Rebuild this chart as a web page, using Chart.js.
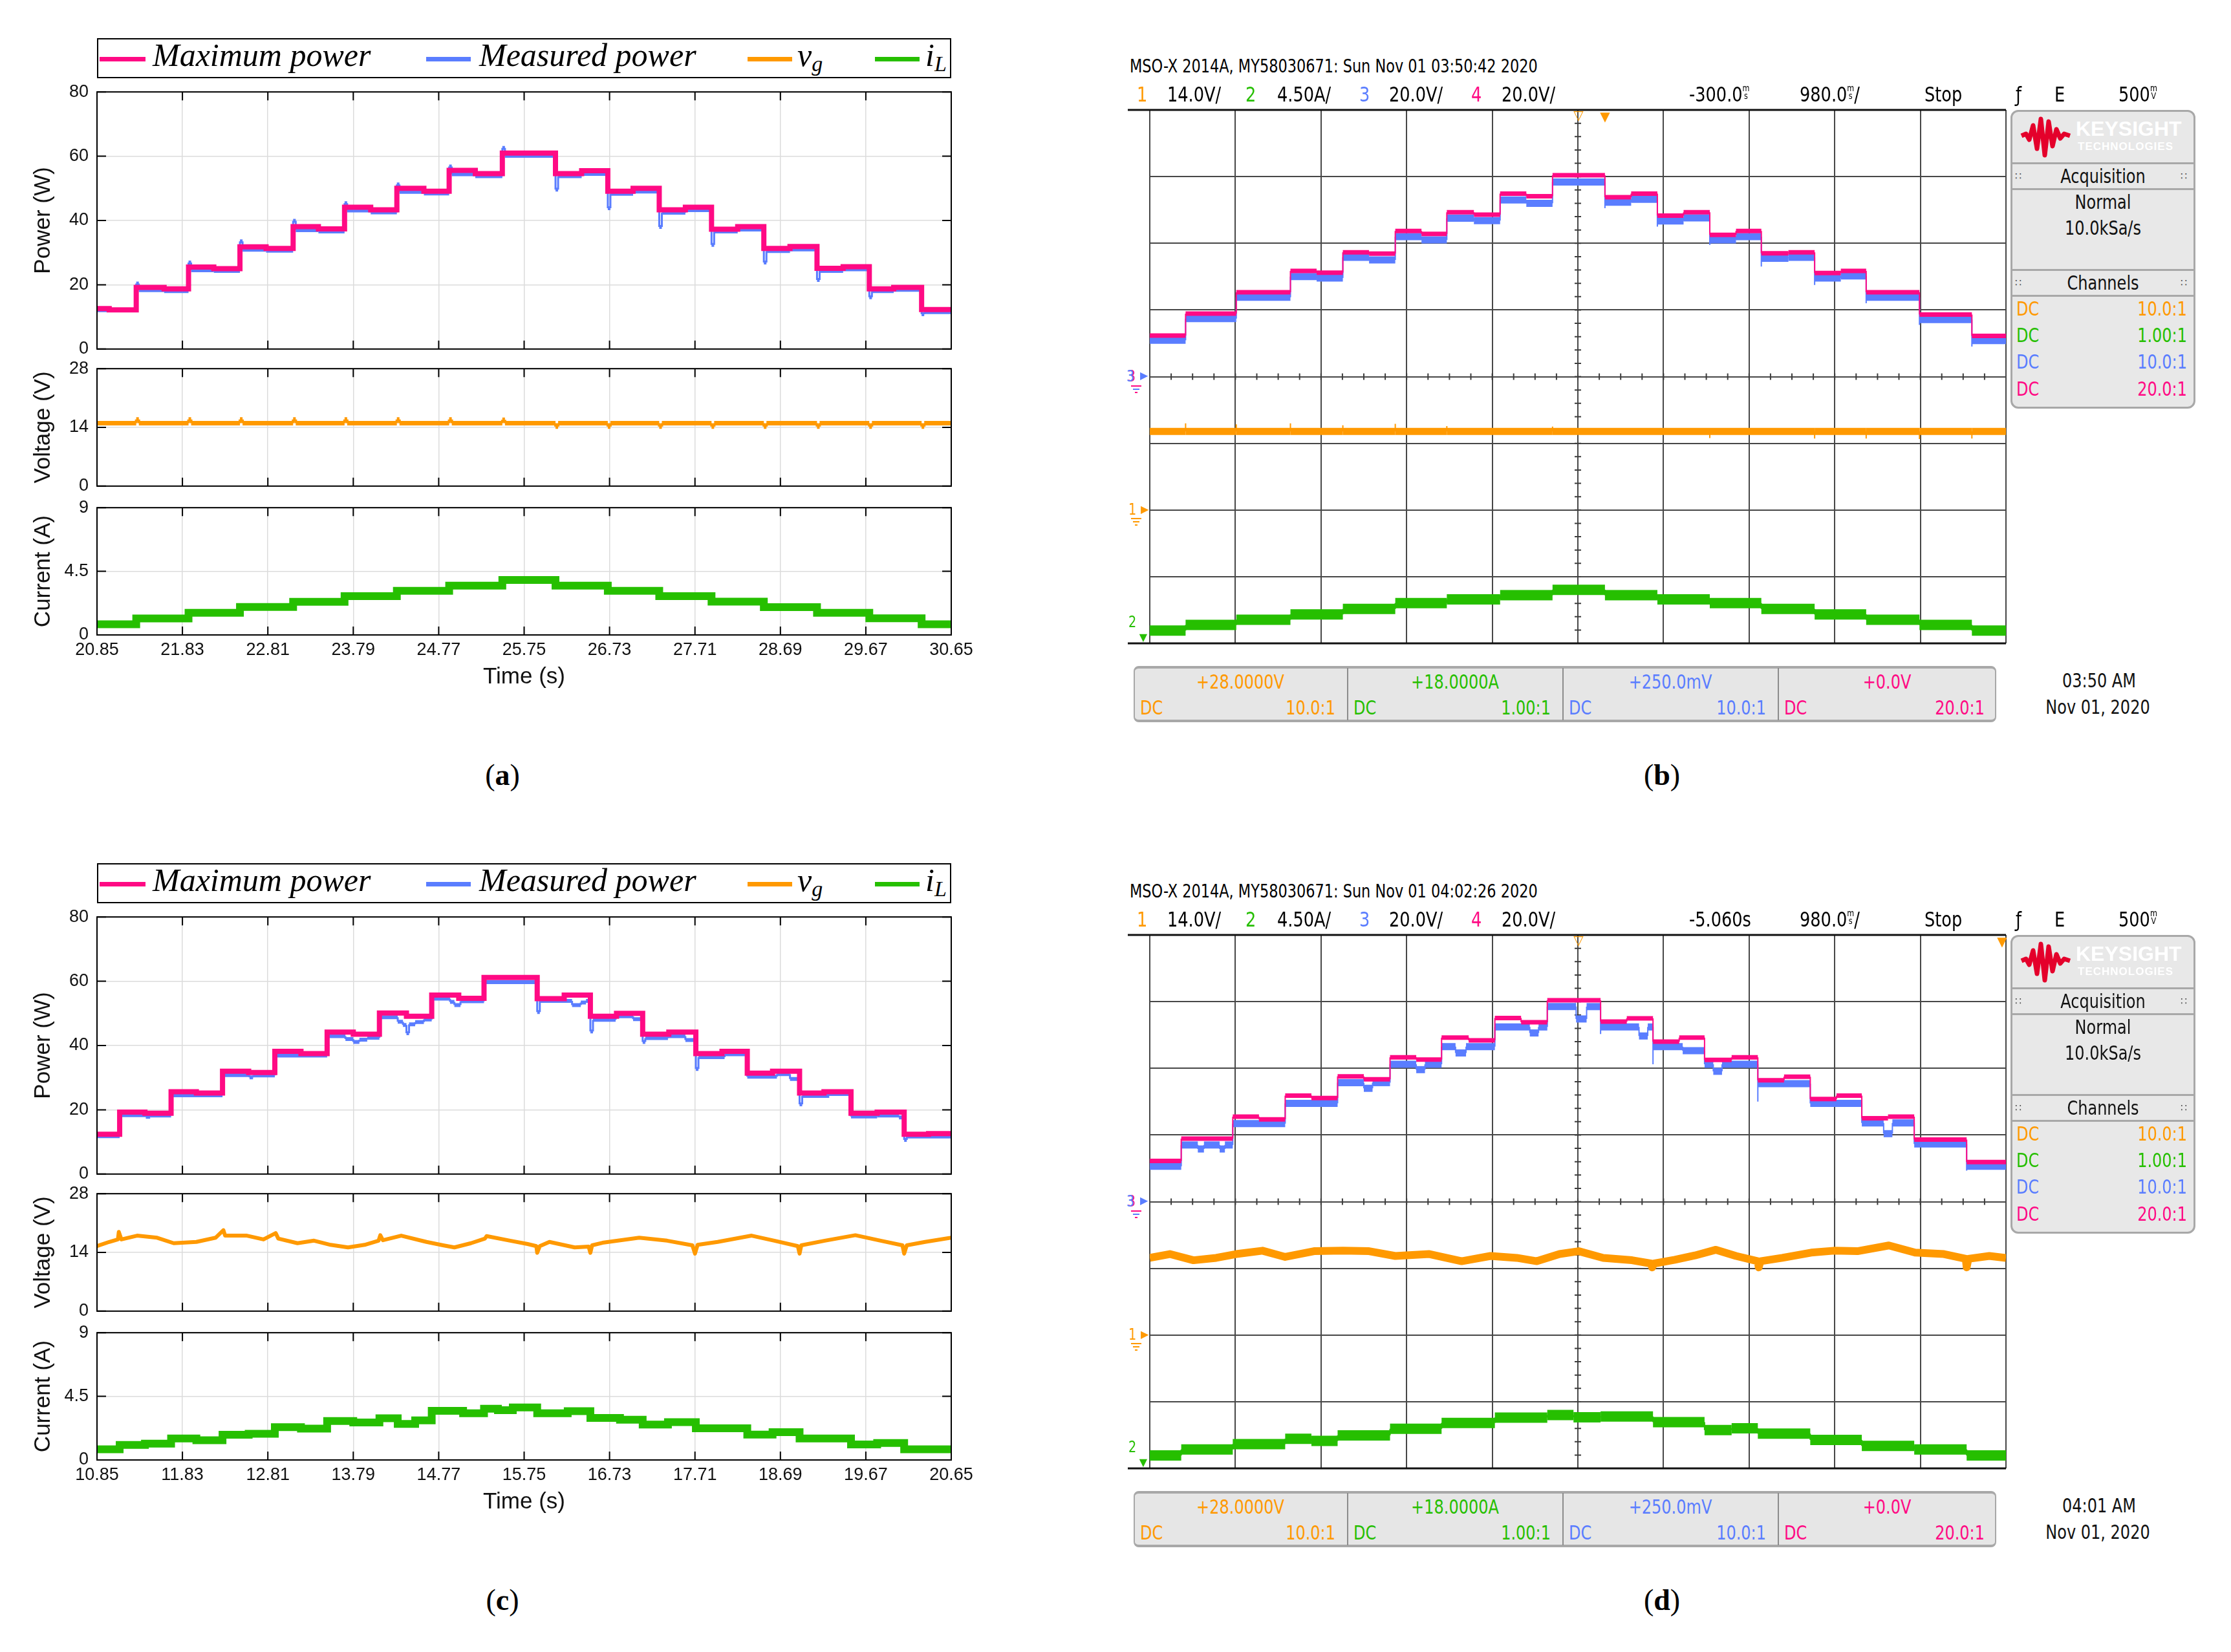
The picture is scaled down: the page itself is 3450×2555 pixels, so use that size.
<!DOCTYPE html>
<html>
<head>
<meta charset="utf-8">
<title>MPPT tracking: simulation and oscilloscope captures</title>
<script src="https://cdn.jsdelivr.net/npm/chart.js@4.4.1/dist/chart.umd.min.js"></script>
<style>
  html, body { margin: 0; padding: 0; background: #fff; }
  body { position: relative; width: 3450px; height: 2555px; overflow: hidden; font-family: "Liberation Sans", Arial, sans-serif; }
  canvas, .t, .b { position: absolute; }
  .t { white-space: nowrap; line-height: 1; }
  .scope { font-family: "Liberation Sans Narrow", "DejaVu Sans Condensed", "Liberation Sans", sans-serif; }
  .sym { font-family: "DejaVu Sans", sans-serif; }
  .leg { font-family: "Liberation Serif", "Times New Roman", serif; font-style: italic; font-size: 50px; }
  .leg sub { font-size: 34px; position: relative; top: 8px; vertical-align: baseline; }
  .cap { font-family: "Liberation Serif", "Times New Roman", serif; }
  .u { display: inline-block; font-size: 14px; line-height: 12px; text-align: center; vertical-align: 4px; }
</style>
</head>
<body>
<script>
// ---------- panel (a): simulation, 20.85 - 30.65 s ----------
const aTicks = [20.85, 21.83, 22.81, 23.79, 24.77, 25.75, 26.73, 27.71, 28.69, 29.67, 30.65];
const aStepT = [20.85, 20.99, 21.30, 21.62, 21.90, 22.19, 22.49, 22.79, 23.10, 23.39, 23.69, 23.99, 24.29, 24.60, 24.89, 25.19,
                25.50, 26.11, 26.41, 26.71, 27.00, 27.30, 27.60, 27.90, 28.20, 28.50, 28.80, 29.11, 29.41, 29.71, 29.99, 30.31];
const aMaxP = [12.6, 12.2, 19.2, 18.7, 25.5, 25.0, 31.8, 31.3, 38.1, 37.4, 44.1, 43.3, 50.0, 49.1, 55.6, 54.6,
               61.0, 54.6, 55.5, 49.1, 50.0, 43.3, 44.1, 37.3, 38.1, 31.3, 31.9, 25.1, 25.6, 18.7, 19.2, 12.3];
const aMeasT = [20.85, 21.30, 21.33, 21.62, 21.90, 21.93, 22.19, 22.49, 22.52, 22.79, 23.10, 23.13, 23.39, 23.69, 23.72, 23.99,
                24.29, 24.32, 24.60, 24.89, 24.92, 25.19, 25.50, 25.53, 26.11, 26.14, 26.41, 26.71, 26.74, 27.00, 27.30, 27.33,
                27.60, 27.90, 27.93, 28.20, 28.50, 28.53, 28.80, 29.11, 29.14, 29.41, 29.71, 29.74, 29.99, 30.31, 30.34];
const aMeasP = [12.1, 20.4, 18.3, 18.0, 26.9, 24.5, 24.3, 33.5, 30.9, 30.6, 39.9, 37.0, 36.6, 45.4, 43.1, 42.5,
                51.2, 48.9, 48.4, 56.8, 54.4, 53.8, 62.6, 60.1, 49.6, 53.8, 54.5, 43.8, 48.3, 49.0, 38.0, 42.4,
                43.2, 32.4, 36.6, 37.2, 26.9, 30.5, 31.0, 21.5, 24.3, 24.8, 16.1, 18.0, 18.4, 10.8, 11.5];
const aVgT = [20.85, 21.30, 21.33, 21.90, 21.93, 22.49, 22.52, 23.10, 23.13, 23.69, 23.72, 24.29, 24.32, 24.89, 24.92, 25.50, 25.53,
              26.11, 26.14, 26.71, 26.74, 27.30, 27.33, 27.90, 27.93, 28.50, 28.53, 29.11, 29.14, 29.71, 29.74, 30.31, 30.34];
const aVg = [15.0, 15.9, 15.0, 15.9, 15.0, 15.9, 15.0, 15.9, 15.0, 15.9, 15.0, 15.9, 15.0, 15.9, 15.0, 15.8, 15.0,
             14.2, 15.0, 14.2, 15.0, 14.2, 15.0, 14.2, 15.0, 14.2, 15.0, 14.2, 15.0, 14.2, 15.0, 14.2, 15.0];
const aIlT = [20.85, 21.30, 21.90, 22.49, 23.10, 23.69, 24.29, 24.89, 25.50, 26.11, 26.71, 27.30, 27.90, 28.50, 29.11, 29.71, 30.31];
const aIl = [0.75, 1.17, 1.57, 1.98, 2.34, 2.74, 3.12, 3.49, 3.89, 3.49, 3.12, 2.74, 2.36, 1.97, 1.57, 1.18, 0.75];

// ---------- panel (c): simulation, 10.85 - 20.65 s ----------
const cTicks = [10.85, 11.83, 12.81, 13.79, 14.77, 15.75, 16.73, 17.71, 18.69, 19.67, 20.65];
const cStepT = [10.85, 11.11, 11.40, 11.70, 11.99, 12.29, 12.59, 12.89, 13.19, 13.49, 13.79, 14.09, 14.40, 14.69, 15.00, 15.29,
                15.90, 16.21, 16.51, 16.81, 17.11, 17.41, 17.72, 18.02, 18.31, 18.60, 18.91, 19.19, 19.50, 19.80, 20.11, 20.39];
const cMaxP = [12.4, 19.3, 18.9, 25.6, 25.2, 32.0, 31.6, 38.2, 37.5, 44.2, 43.5, 50.1, 49.1, 55.7, 54.7, 61.2,
               54.6, 55.7, 49.1, 50.0, 43.5, 44.2, 37.5, 38.2, 31.4, 32.0, 25.2, 25.6, 18.9, 19.3, 12.4, 12.6];
const cMeasT = [10.85, 11.11, 11.41, 11.46, 11.70, 12.29, 12.60, 12.64, 12.89, 13.49, 13.70, 13.79, 13.86, 13.95, 14.09, 14.30,
                14.36, 14.40, 14.43, 14.50, 14.60, 14.69, 14.90, 14.95, 15.02, 15.29, 15.90, 15.93, 16.30, 16.40, 16.46, 16.51,
                16.54, 16.80, 17.00, 17.11, 17.14, 17.40, 17.60, 17.72, 17.75, 18.05, 18.31, 18.65, 18.80, 18.91, 18.94, 19.25,
                19.50, 19.80, 20.05, 20.11, 20.14];
const cMeasP = [11.8, 18.3, 17.8, 18.2, 24.5, 30.8, 30.1, 30.7, 36.9, 42.9, 42.0, 41.1, 41.8, 42.4, 48.8, 47.4,
                46.4, 43.8, 46.6, 47.3, 48.1, 54.6, 53.6, 52.6, 53.8, 59.7, 50.4, 53.9, 52.6, 53.4, 53.9, 44.4,
                48.0, 49.1, 48.2, 41.1, 42.3, 42.9, 41.7, 32.7, 36.4, 37.3, 30.3, 31.1, 29.6, 21.7, 24.3, 24.9,
                17.9, 18.2, 17.6, 10.6, 11.7];
const cVgT = [10.85, 10.99, 11.09, 11.10, 11.13, 11.31, 11.54, 11.73, 11.99, 12.21, 12.30, 12.32, 12.57, 12.76, 12.90, 12.93,
              13.15, 13.34, 13.53, 13.73, 13.92, 14.08, 14.10, 14.13, 14.34, 14.63, 14.82, 14.95, 15.14, 15.30, 15.32, 15.59,
              15.79, 15.89, 15.90, 15.93, 16.04, 16.33, 16.49, 16.51, 16.53, 16.65, 17.07, 17.39, 17.68, 17.71, 17.74, 17.97,
              18.36, 18.62, 18.89, 18.91, 18.93, 19.20, 19.55, 19.84, 20.09, 20.11, 20.14, 20.35, 20.65];
const cVg = [15.5, 16.5, 17.1, 18.9, 17.1, 18.0, 17.5, 16.2, 16.5, 17.5, 19.3, 18.0, 18.0, 17.1, 18.6, 17.3,
             16.2, 16.8, 15.8, 15.2, 15.8, 16.8, 18.1, 16.9, 18.0, 16.5, 15.7, 15.2, 16.2, 17.3, 17.9, 16.8,
             16.0, 15.5, 13.9, 15.5, 16.5, 15.2, 15.4, 13.9, 15.7, 16.3, 17.5, 16.8, 15.7, 13.7, 15.8, 16.5,
             18.0, 16.8, 15.5, 13.7, 15.7, 16.8, 18.1, 16.8, 15.7, 13.7, 15.7, 16.5, 17.5];
const cIlT = [10.85, 11.11, 11.40, 11.70, 11.99, 12.29, 12.59, 12.89, 13.19, 13.49, 13.79, 14.09, 14.30, 14.50, 14.69, 15.05,
              15.29, 15.45, 15.62, 15.90, 16.25, 16.51, 16.85, 17.11, 17.40, 17.72, 18.31, 18.60, 18.91, 19.50, 19.80, 20.11];
const cIl = [0.75, 1.06, 1.15, 1.52, 1.40, 1.78, 1.85, 2.32, 2.22, 2.75, 2.65, 2.95, 2.55, 2.80, 3.47, 3.30,
             3.62, 3.52, 3.72, 3.30, 3.45, 2.97, 2.85, 2.50, 2.68, 2.24, 1.80, 1.97, 1.52, 1.10, 1.20, 0.75];

// ---------- panel (b): oscilloscope, time from left edge of screen (s) ----------
const bStepT = [0, 0.41, 0.99, 1.61, 1.91, 2.21, 2.51, 2.81, 3.11, 3.40, 3.71, 4.01, 4.31, 4.61,
                5.21, 5.51, 5.81, 6.11, 6.41, 6.71, 7.00, 7.31, 7.61, 7.91, 8.20, 8.81, 9.41];
const bMaxP = [12.3, 18.9, 25.3, 31.7, 31.2, 37.3, 36.9, 43.7, 42.8, 49.3, 48.6, 54.9, 54.1, 60.4,
               53.8, 54.9, 48.3, 49.3, 42.5, 43.7, 37.0, 37.3, 31.1, 31.7, 25.3, 18.6, 12.2];
const bMeasT = [0, 0.41, 0.99, 1.61, 1.91, 2.21, 2.51, 2.81, 3.11, 3.40, 3.71, 4.01, 4.31, 4.61, 5.21, 5.21, 5.51,
                5.81, 5.81, 6.11, 6.41, 6.41, 6.71, 7.00, 7.00, 7.31, 7.61, 7.61, 7.91, 8.20, 8.20, 8.81, 8.81, 9.41, 9.41];
const bMeasP = [10.9, 17.4, 23.8, 30.0, 29.6, 35.8, 35.0, 42.0, 41.0, 47.5, 46.8, 53.0, 52.0, 58.4, 50.5, 52.3, 53.2,
                45.0, 46.7, 47.6, 39.5, 41.0, 42.0, 33.0, 35.5, 35.8, 27.5, 29.6, 30.2, 22.0, 23.8, 15.5, 17.1, 9.0, 10.8];
const bVgT = [0, 0.41, 0.41, 0.99, 0.99, 1.61, 1.61, 2.21, 2.21, 2.81, 2.81, 3.40, 3.40, 4.61, 4.61,
              6.41, 6.41, 7.61, 7.61, 8.20, 8.20, 8.81, 8.81, 9.41, 9.41];
const bVg = [16.5, 18.2, 16.5, 18.0, 16.5, 18.2, 16.5, 17.8, 16.5, 18.1, 16.5, 17.6, 16.5, 17.5, 16.5,
             15.1, 16.5, 15.0, 16.5, 15.0, 16.5, 14.9, 16.5, 15.0, 16.5];
const bIlT = [0, 0.41, 0.99, 1.61, 2.21, 2.81, 3.40, 4.01, 4.61, 5.21, 5.81, 6.41, 7.00, 7.61, 8.20, 8.81, 9.41];
const bIl = [0.86, 1.24, 1.59, 1.95, 2.32, 2.72, 2.97, 3.25, 3.61, 3.25, 2.97, 2.72, 2.32, 1.95, 1.59, 1.24, 0.86];

// ---------- panel (d): oscilloscope ----------
const dStepT = [0, 0.36, 0.95, 1.25, 1.55, 1.85, 2.15, 2.45, 2.75, 3.05, 3.34, 3.65, 3.95, 4.25, 4.55,
                5.16, 5.46, 5.76, 6.06, 6.35, 6.66, 6.96, 7.26, 7.56, 7.86, 8.15, 8.45, 8.75, 9.35];
const dMaxP = [12.2, 18.9, 25.5, 24.7, 31.8, 31.1, 37.6, 36.7, 43.3, 42.6, 49.2, 48.4, 55.1, 53.8, 60.4,
               54.0, 55.0, 48.0, 49.2, 42.5, 43.3, 36.4, 37.5, 30.8, 31.8, 25.0, 25.5, 18.6, 11.9];
const dMeasT = [0, 0.36, 0.55, 0.62, 0.80, 0.86, 0.95, 1.55, 2.15, 2.45, 2.55, 2.75, 3.05, 3.15, 3.34, 3.50, 3.62, 3.95,
                4.35, 4.45, 4.55, 4.88, 5.00, 5.16, 5.16, 5.60, 5.70, 5.76, 5.76, 6.10, 6.35, 6.45, 6.55, 6.96, 6.96,
                7.56, 8.15, 8.40, 8.50, 8.75, 9.35, 9.35];
const dMeasP = [10.6, 17.0, 15.8, 17.0, 15.8, 17.0, 23.4, 29.5, 35.7, 34.0, 35.7, 41.2, 39.6, 41.2, 46.5, 44.6, 46.5, 52.4,
                50.6, 52.4, 58.5, 54.8, 58.5, 50.3, 52.4, 49.7, 52.4, 41.2, 46.5, 45.3, 41.2, 39.1, 41.2, 30.0, 35.4,
                29.5, 23.6, 20.4, 23.6, 17.3, 9.3, 10.6];
const dVgT = [0, 0.23, 0.50, 0.76, 0.99, 1.29, 1.55, 1.88, 2.21, 2.51, 2.81, 3.20, 3.57, 3.90, 4.20, 4.43, 4.69, 4.91,
              5.19, 5.52, 5.74, 5.75, 5.77, 6.01, 6.24, 6.48, 6.71, 6.96, 6.97, 6.99, 7.24, 7.57, 7.83, 8.10, 8.46,
              8.76, 9.09, 9.34, 9.35, 9.37, 9.61, 9.80];
const dVg = [16.2, 17.0, 15.7, 16.2, 17.0, 17.7, 16.4, 17.6, 17.7, 17.6, 16.6, 17.0, 15.5, 16.6, 16.2, 15.5, 17.0, 17.6,
             16.2, 15.7, 15.0, 14.2, 15.0, 15.8, 16.7, 17.9, 16.6, 15.5, 14.2, 15.5, 16.2, 17.3, 17.7, 17.6, 18.8,
             17.3, 17.0, 16.0, 14.2, 16.0, 16.6, 16.2];
const dIlT = [0, 0.36, 0.95, 1.55, 1.85, 2.15, 2.75, 3.34, 3.95, 4.55, 4.85, 5.16, 5.76, 6.35, 6.66, 6.96, 7.56, 8.15, 8.75, 9.35];
const dIl = [0.87, 1.28, 1.64, 2.00, 1.85, 2.23, 2.67, 3.07, 3.43, 3.60, 3.45, 3.50, 3.12, 2.59, 2.71, 2.35, 1.92, 1.52, 1.28, 0.87];

// axis ticks
const powerTicks = [0, 20, 40, 60, 80];
const voltTicks = [0, 14, 28];
const currTicks = [0, 4.5, 9];
const scopeXTicks = [0, 0.98, 1.96, 2.94, 3.92, 4.9, 5.88, 6.86, 7.84, 8.82, 9.8];
const scopePTicks = [-80, -60, -40, -20, 0, 20, 40, 60, 80];

const C = { pink: '#ff0a84', blue: '#5a7dff', orange: '#ff9900', green: '#26bf00' };
const SCOPE_SX = 0.89; // scope screen font is narrower than anything installed

Chart.defaults.font.family = '"Liberation Sans", Arial, sans-serif';

// hold each value until the next sample time (stairs)
function stairs(ts, vs, tEnd) {
  const out = [];
  ts.forEach((t, i) => {
    const next = i + 1 < ts.length ? ts[i + 1] : tEnd;
    out.push({ x: t, y: vs[i] }, { x: next, y: vs[i] });
  });
  return out;
}
function points(ts, vs) {
  return ts.map((t, i) => ({ x: t, y: vs[i] }));
}
function trace(data, color, width, vWidth, axis, join) {
  const ds = { data, borderColor: color, borderWidth: width, pointRadius: 0, tension: 0, fill: false,
               borderCapStyle: 'butt', borderJoinStyle: join || 'miter' };
  if (axis) ds.yAxisID = axis;
  if (vWidth) ds.segment = { borderWidth: c => (c.p0.parsed.x === c.p1.parsed.x ? vWidth : undefined) };
  return ds;
}

// matlab style box with inward tick marks
const matlabFrame = {
  id: 'matlabFrame',
  afterDatasetsDraw(chart) {
    const { ctx, chartArea: a, scales } = chart;
    ctx.save();
    ctx.strokeStyle = '#000';
    ctx.lineWidth = 2;
    ctx.beginPath();
    scales.x.ticks.forEach(t => {
      const px = scales.x.getPixelForValue(t.value);
      ctx.moveTo(px, a.top); ctx.lineTo(px, a.top + 13);
      ctx.moveTo(px, a.bottom); ctx.lineTo(px, a.bottom - 13);
    });
    scales.y.ticks.forEach(t => {
      const py = scales.y.getPixelForValue(t.value);
      ctx.moveTo(a.left, py); ctx.lineTo(a.left + 14, py);
      ctx.moveTo(a.right, py); ctx.lineTo(a.right - 14, py);
    });
    ctx.stroke();
    ctx.strokeRect(a.left, a.top, a.right - a.left, a.bottom - a.top);
    ctx.restore();
  }
};

function addCanvas(left, top, w, h) {
  const cv = document.createElement('canvas');
  cv.width = w; cv.height = h;
  cv.style.left = left + 'px'; cv.style.top = top + 'px';
  cv.style.width = w + 'px'; cv.style.height = h + 'px';
  document.body.appendChild(cv);
  return cv;
}

function matlabPlot(top, plotH, showX, xTicks, yTicks, yTitle, datasets) {
  const h = plotH + 20 + (showX ? 100 : 20);
  const cv = addCanvas(0, top - 20, 1530, h);
  new Chart(cv, {
    type: 'line',
    data: { datasets },
    options: {
      responsive: false, animation: false, devicePixelRatio: 1, events: [],
      layout: { padding: { left: 0, top: 20, right: 59, bottom: showX ? 0 : 20 } },
      plugins: { legend: { display: false }, tooltip: { enabled: false } },
      scales: {
        x: {
          type: 'linear', min: xTicks[0], max: xTicks[xTicks.length - 1],
          afterBuildTicks: s => { s.ticks = xTicks.map(v => ({ value: v })); },
          afterFit: s => { s.height = showX ? 100 : 0; },
          grid: { color: '#dcdcdc', lineWidth: 1.5, drawTicks: false },
          border: { display: false },
          ticks: { display: showX, padding: 7, maxRotation: 0, autoSkip: false, color: '#111',
                   font: { size: 27 }, callback: v => v.toFixed(2) },
          title: { display: showX, text: 'Time (s)', color: '#111', font: { size: 35 }, padding: { top: 0, bottom: 14 } }
        },
        y: {
          min: yTicks[0], max: yTicks[yTicks.length - 1],
          afterBuildTicks: s => { s.ticks = yTicks.map(v => ({ value: v })); },
          afterFit: s => { s.width = 150; },
          grid: { color: '#dcdcdc', lineWidth: 1.5, drawTicks: false },
          border: { display: false },
          ticks: { padding: 13, color: '#111', font: { size: 27 }, callback: v => String(v) },
          title: { display: true, text: yTitle, color: '#111', font: { size: 35 }, padding: { top: 46, bottom: 0 } }
        }
      }
    },
    plugins: [matlabFrame]
  });
}

// oscilloscope graticule extras: centre-line minor ticks and heavy top/bottom rules
const scopeGrat = {
  id: 'scopeGrat',
  beforeDatasetsDraw(chart) {
    const { ctx, chartArea: a, scales } = chart;
    const x = scales.x, y = scales.yP;
    const cx = x.getPixelForValue(4.9), cy = y.getPixelForValue(0);
    ctx.save();
    ctx.strokeStyle = '#3c3c3c';
    ctx.lineWidth = 2;
    ctx.beginPath();
    for (let i = 1; i < 40; i++) {
      const px = x.getPixelForValue(i * 0.245);
      ctx.moveTo(px, cy - 5); ctx.lineTo(px, cy + 5);
    }
    for (let i = 1; i < 40; i++) {
      const py = y.getPixelForValue(-80 + i * 4);
      ctx.moveTo(cx - 5, py); ctx.lineTo(cx + 5, py);
    }
    ctx.stroke();
    ctx.strokeStyle = '#111';
    ctx.lineWidth = 3;
    ctx.beginPath();
    ctx.moveTo(a.left - 34, a.top); ctx.lineTo(a.right, a.top);
    ctx.moveTo(a.left - 34, a.bottom); ctx.lineTo(a.right, a.bottom);
    ctx.stroke();
    ctx.restore();
  }
};

function scopePlot(top, datasets) {
  const cv = addCanvas(1730, top - 10, 1375, 840);
  const gridOpt = { color: '#474747', lineWidth: 2, drawTicks: false };
  new Chart(cv, {
    type: 'line',
    data: { datasets },
    options: {
      responsive: false, animation: false, devicePixelRatio: 1, events: [],
      layout: { padding: { left: 48, top: 10, right: 3, bottom: 5 } },
      plugins: { legend: { display: false }, tooltip: { enabled: false } },
      scales: {
        x: { type: 'linear', min: 0, max: 9.8,
             afterBuildTicks: s => { s.ticks = scopeXTicks.map(v => ({ value: v })); },
             afterFit: s => { s.height = 0; },
             grid: gridOpt, border: { display: false }, ticks: { display: false } },
        yP: { position: 'left', min: -80, max: 80,
              afterBuildTicks: s => { s.ticks = scopePTicks.map(v => ({ value: v })); },
              afterFit: s => { s.width = 0; },
              grid: gridOpt, border: { display: false }, ticks: { display: false } },
        yV: { display: false, min: -28, max: 84 },
        yI: { display: false, min: 0, max: 36 }
      }
    },
    plugins: [scopeGrat]
  });
}

// ---------- html helpers ----------
function txt(html, x, cy, size, align, color, cls, extra) {
  const d = document.createElement('div');
  d.className = 't' + (cls ? ' ' + cls : '');
  d.innerHTML = html;
  d.style.left = x + 'px';
  d.style.top = (cy - 0.49 * size) + 'px';
  d.style.fontSize = size + 'px';
  if (color) d.style.color = color;
  const sx = cls === 'scope' ? ` scaleX(${SCOPE_SX})` : '';
  if (align === 'center') { d.style.transform = 'translateX(-50%)' + sx; d.style.transformOrigin = 'center'; }
  else if (align === 'right') { d.style.transform = 'translateX(-100%)' + sx; d.style.transformOrigin = 'right'; }
  else if (sx) { d.style.transform = sx; d.style.transformOrigin = 'left'; }
  if (extra) d.style.cssText += extra;
  document.body.appendChild(d);
  return d;
}
function box(x, y, w, h, css) {
  const d = document.createElement('div');
  d.className = 'b';
  d.style.cssText = `left:${x}px;top:${y}px;width:${w}px;height:${h}px;` + (css || '');
  document.body.appendChild(d);
  return d;
}
const U = (a, b) => `<span class="u">${a}<br>${b}</span>`;

function legendBox(dy) {
  box(150, 59 + dy, 1321, 62, 'border:2px solid #000;box-sizing:border-box;');
  [[154, 71, C.pink, 236, 'Maximum power'], [659, 69, C.blue, 741, 'Measured power'],
   [1156, 69, C.orange, 1233, 'v<sub>g</sub>'], [1353, 69, C.green, 1431, 'i<sub>L</sub>']].forEach(([lx, lw, col, tx, label]) => {
    box(lx, 88 + dy, lw, 7, 'background:' + col);
    const d = document.createElement('div');
    d.className = 't leg';
    d.innerHTML = label;
    d.style.left = tx + 'px';
    d.style.top = (60 + dy) + 'px';
    document.body.appendChild(d);
  });
}

function scopeDecor(dy, stamp, delay, clock, trigX) {
  const sc = 'scope';
  txt('MSO-X 2014A, MY58030671: ' + stamp, 1747, 103 + dy, 28, 'left', '#000', sc);
  [['1', 1758, C.orange], ['14.0V/', 1805], ['2', 1926, C.green], ['4.50A/', 1975], ['3', 2102, C.blue], ['20.0V/', 2148],
   ['4', 2275, C.pink], ['20.0V/', 2322], [delay, 2612], ['980.0' + U('m', 's') + '/', 2783], ['Stop', 2976],
   ['&#402;', 3117], ['E', 3177], ['500' + U('m', 'V'), 3276]].forEach(([s, x, col]) => txt(s, x, 146 + dy, 32, 'left', col || '#000', sc));

  // trigger markers on top rule
  txt('&#9661;', 2441, 178 + dy, 20, 'center', C.orange, 'sym');
  txt('&#9660;', trigX, 180 + dy, 20, 'center', C.orange, 'sym');

  // channel ground markers
  txt('3', 1742, 582 + dy, 24, 'left', C.blue, sc, 'text-shadow:2px 0 0 ' + C.pink + ';');
  txt('&#9654;', 1763, 581 + dy, 16, 'left', C.blue, 'sym');
  box(1749, 596 + dy, 16, 2, 'background:' + C.pink);
  box(1752, 601 + dy, 10, 2, 'background:' + C.blue);
  box(1755, 606 + dy, 4, 2, 'background:' + C.pink);
  txt('1', 1745, 788 + dy, 24, 'left', C.orange, sc);
  txt('&#9654;', 1764, 788 + dy, 16, 'left', C.orange, 'sym');
  box(1749, 801 + dy, 16, 2, 'background:' + C.orange);
  box(1752, 806 + dy, 10, 2, 'background:' + C.orange);
  box(1755, 811 + dy, 4, 2, 'background:' + C.orange);
  txt('2', 1745, 962 + dy, 24, 'left', C.green, sc);
  txt('&#9660;', 1768, 986 + dy, 16, 'center', C.green, 'sym');

  // side panel
  box(3109, 170 + dy, 286, 462, 'background:#e8e8e8;border:3px solid #a8a8a8;border-radius:12px;box-sizing:border-box;');
  [251, 291, 416, 456].forEach(y => box(3111, y + dy, 282, 3, 'background:#a8a8a8'));
  const logo = box(3124, 180 + dy, 80, 64, '');
  logo.innerHTML = '<svg width="80" height="64" viewBox="0 0 80 64"><polyline points="2,30 9,27 14,36 20,14 26,50 32,4 38,60 44,8 50,46 56,20 62,34 68,27 77,30" fill="none" stroke="#e4002b" stroke-width="7" stroke-linejoin="round"/></svg>';
  txt('KEYSIGHT', 3210, 199 + dy, 32, 'left', '#fff', '', 'font-weight:bold;');
  txt('TECHNOLOGIES', 3213, 226 + dy, 17, 'left', '#fff', '', 'font-weight:bold;letter-spacing:1px;');
  txt('Acquisition', 3252, 273 + dy, 30, 'center', '#111', sc);
  txt('Normal', 3252, 313 + dy, 30, 'center', '#111', sc);
  txt('10.0kSa/s', 3252, 353 + dy, 30, 'center', '#111', sc);
  txt('Channels', 3252, 438 + dy, 30, 'center', '#111', sc);
  [273, 438].forEach(y => {
    txt('&#8759;', 3116, y + dy, 16, 'left', '#555', 'sym');
    txt('&#8759;', 3372, y + dy, 16, 'left', '#555', 'sym');
  });
  [[478, C.orange, '10.0:1'], [519, C.green, '1.00:1'], [560, C.blue, '10.0:1'], [602, C.pink, '20.0:1']].forEach(([y, col, r]) => {
    txt('DC', 3118, y + dy, 30, 'left', col, sc);
    txt(r, 3382, y + dy, 30, 'right', col, sc);
  });

  // bottom channel bar
  box(1753, 1030 + dy, 1334, 87, 'background:#e6e6e6;border:2px solid #a8a8a8;border-top-width:4px;border-bottom-width:4px;border-radius:8px;box-sizing:border-box;');
  [2083, 2416, 2749].forEach(x => box(x, 1033 + dy, 2, 81, 'background:#8c8c8c'));
  [[1753, 2083, '+28.0000V', '10.0:1', C.orange], [2083, 2416, '+18.0000A', '1.00:1', C.green],
   [2416, 2749, '+250.0mV', '10.0:1', C.blue], [2749, 3087, '+0.0V', '20.0:1', C.pink]].forEach(([l, r, v, ratio, col]) => {
    txt(v, (l + r) / 2, 1055 + dy, 30, 'center', col, sc);
    txt('DC', l + 10, 1095 + dy, 30, 'left', col, sc);
    txt(ratio, r - 18, 1095 + dy, 30, 'right', col, sc);
  });
  txt(clock, 3246, 1053 + dy, 30, 'center', '#111', sc);
  txt('Nov 01, 2020', 3244, 1094 + dy, 30, 'center', '#111', sc);
}

// ---------- build panels ----------
const D = 1276; // vertical offset of the lower row

// (a)
legendBox(0);
matlabPlot(133, 416, false, aTicks, powerTicks, 'Power (W)', [
  trace(stairs(aStepT, aMaxP, 30.65), C.pink, 8),
  trace(stairs(aMeasT, aMeasP, 30.65), C.blue, 6, 3)
]);
matlabPlot(561, 200, false, aTicks, voltTicks, 'Voltage (V)', [
  trace(stairs(aVgT, aVg, 30.65), C.orange, 7, 4)
]);
matlabPlot(776, 206, true, aTicks, currTicks, 'Current (A)', [
  trace(stairs(aIlT, aIl, 30.65), C.green, 12)
]);

// (c)
legendBox(D);
matlabPlot(133 + D, 416, false, cTicks, powerTicks, 'Power (W)', [
  trace(stairs(cStepT, cMaxP, 20.65), C.pink, 8),
  trace(stairs(cMeasT, cMeasP, 20.65), C.blue, 6, 3)
]);
matlabPlot(561 + D, 200, false, cTicks, voltTicks, 'Voltage (V)', [
  trace(points(cVgT, cVg), C.orange, 6, 0, undefined, 'round')
]);
matlabPlot(776 + D, 206, true, cTicks, currTicks, 'Current (A)', [
  trace(stairs(cIlT, cIl, 20.65), C.green, 12)
]);

// (b)
scopePlot(170, [
  trace(stairs(bStepT, bMaxP, 9.8), C.pink, 7, 2, 'yP'),
  trace(stairs(bMeasT, bMeasP, 9.8), C.blue, 11, 2, 'yP'),
  trace(stairs(bVgT, bVg, 9.8), C.orange, 11, 2, 'yV'),
  trace(stairs(bIlT, bIl, 9.8), C.green, 16, 2, 'yI')
]);
scopeDecor(0, 'Sun Nov 01 03:50:42 2020', '-300.0' + U('m', 's'), '03:50 AM', 2482);

// (d)
scopePlot(170 + D, [
  trace(stairs(dStepT, dMaxP, 9.8), C.pink, 7, 2, 'yP'),
  trace(stairs(dMeasT, dMeasP, 9.8), C.blue, 11, 2, 'yP'),
  trace(points(dVgT, dVg), C.orange, 12, 0, 'yV', 'round'),
  trace(stairs(dIlT, dIl, 9.8), C.green, 16, 2, 'yI')
]);
scopeDecor(D, 'Sun Nov 01 04:02:26 2020', '-5.060s', '04:01 AM', 3096);

// captions
[['a', 777, 1199], ['b', 2570, 1199], ['c', 777, 1199 + D], ['d', 2570, 1199 + D]].forEach(([l, x, y]) =>
  txt(`(<b>${l}</b>)`, x, y, 46, 'center', '#000', 'cap'));
</script>
</body>
</html>
